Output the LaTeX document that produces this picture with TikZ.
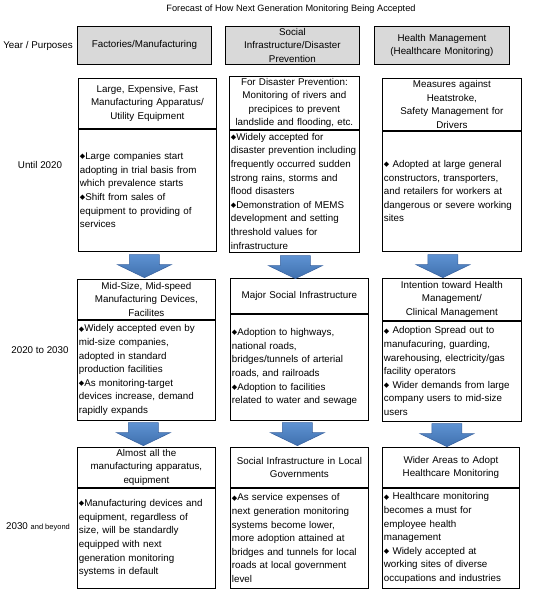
\documentclass[tikz,border=0pt]{standalone}
\usepackage{fontspec}
\setmainfont{Liberation Sans}
\newfontfamily\symfont{DejaVu Sans}
\usetikzlibrary{positioning,calc}

\definecolor{hdgray}{HTML}{D9D9D9}
\definecolor{arrtop}{HTML}{5E92D2}
\definecolor{arrbot}{HTML}{3F70AE}
\definecolor{arrline}{HTML}{3A63A0}

\newcommand\dmd{{\symfont\fontsize{7}{7}\selectfont\raisebox{0.8pt}{◆}}}

\begin{document}
\begin{tikzpicture}[x=1pt, y=-1pt,
    every node/.style={font=\fontsize{9.8}{13.6}\selectfont, inner ysep=0pt, inner xsep=1.5pt},
    hdr/.style={draw, line width=0.8pt, fill=hdgray, align=center, anchor=north west},
    ttl/.style={draw, line width=0.8pt, align=center, anchor=north west},
    txt/.style={draw, line width=0.8pt, align=left, anchor=north west},
    blk/.style={top color=arrtop, bottom color=arrbot, draw=arrline, line width=0.6pt},
    downblk/.pic={\path[blk] (-15,0) -- (-15,10) -- (-27,10) -- (0,23) -- (27,10) -- (15,10) -- (15,0) -- cycle;}
]
\useasboundingbox (0,0) rectangle (534,601);

% title and column heads
\node[font=\fontsize{9.2}{11}\selectfont] (title) at (291,9) {Forecast of How Next Generation Monitoring Being Accepted};
\node (yp) at (38,46) {Year / Purposes};
\node[hdr, text width=131pt, minimum height=38pt] (hfac) at (77,26) {Factories/Manufacturing};
\node[hdr, text width=131pt, minimum height=38pt] (hinf) at (225,26) {Social\\Infrastructure/Disaster\\Prevention};
\node[hdr, text width=132pt, minimum height=38pt] (hhlt) at (374,26) {Health Management\\(Healthcare Monitoring)};

% year labels
\node (y1) at (40,165) {Until 2020};
\node (y2) at (40,350) {2020 to 2030};
\node (y3) at (38,527) {2030 {\fontsize{7.5}{9}\selectfont and beyond}};

% until 2020
\node[ttl, text width=135pt, minimum height=50pt] (fac1) at (78,78) {Large, Expensive, Fast\\Manufacturing Apparatus/\\Utility Equipment};
\node[txt, text width=135pt, minimum height=122pt] (fac1b) at (fac1.south west) {\dmd Large companies start\\adopting in trial basis from\\which prevalence starts\\\dmd Shift from sales of\\equipment to providing of\\services};
\node[ttl, text width=127pt, minimum height=53pt] (inf1) at (229,76) {For Disaster Prevention:\\Monitoring of rivers and\\precipices to prevent\\landslide and flooding, etc.};
\node[txt, text width=127pt, minimum height=122pt] (inf1b) at (inf1.south west) {\dmd Widely accepted for\\disaster prevention including\\frequently occurred sudden\\strong rains, storms and\\flood disasters\\\dmd Demonstration of MEMS\\development and setting\\threshold values for\\infrastructure};
\node[ttl, text width=136pt, minimum height=52pt] (hlt1) at (382,78) {Measures against\\Heatstroke,\\Safety Management for\\Drivers};
\node[txt, text width=136pt, minimum height=120pt] (hlt1b) at (hlt1.south west) {\dmd{} Adopted at large general\\constructors, transporters,\\and retailers for workers at\\dangerous or severe working\\sites};

% 2020 to 2030
\node[ttl, text width=135pt, minimum height=40pt] (fac2) at (77,279) {Mid-Size, Mid-speed\\Manufacturing Devices,\\Facilites};
\node[txt, text width=135pt, minimum height=100pt] (fac2b) at (fac2.south west) {\dmd Widely accepted even by\\mid-size companies,\\adopted in standard\\production facilities\\\dmd As monitoring-target\\devices increase, demand\\rapidly expands};
\node[ttl, text width=135pt, minimum height=35pt] (inf2) at (230,278) {Major Social Infrastructure};
\node[txt, text width=135pt, minimum height=106pt] (inf2b) at (inf2.south west) {\dmd Adoption to highways,\\national roads,\\bridges/tunnels of arterial\\roads, and railroads\\\dmd Adoption to facilities\\related to water and sewage};
\node[ttl, text width=136pt, minimum height=42pt] (hlt2) at (382,278) {Intention toward Health\\Management/\\Clinical Management};
\node[txt, text width=136pt, minimum height=100pt] (hlt2b) at (hlt2.south west) {\dmd{} Adoption Spread out to\\manufacuring, guarding,\\warehousing, electricity/gas\\facility operators\\\dmd{} Wider demands from large\\company users to mid-size\\users};

% 2030 and beyond
\node[ttl, text width=135pt, minimum height=40pt] (fac3) at (77,447) {Almost all the\\manufacturing apparatus,\\equipment};
\node[txt, text width=135pt, minimum height=100pt] (fac3b) at (fac3.south west) {\dmd Manufacturing devices and\\equipment, regardless of\\size, will be standardly\\equipped with next\\generation monitoring\\systems in default};
\node[ttl, text width=135pt, minimum height=40pt] (inf3) at (230,447) {Social Infrastructure in Local\\Governments};
\node[txt, text width=135pt, minimum height=100pt] (inf3b) at (inf3.south west) {\dmd As service expenses of\\next generation monitoring\\systems become lower,\\more adoption attained at\\bridges and tunnels for local\\roads at local government\\level};
\node[ttl, text width=134pt, minimum height=40pt] (hlt3) at (382,447) {Wider Areas to Adopt\\Healthcare Monitoring};
\node[txt, text width=134pt, minimum height=100pt] (hlt3b) at (hlt3.south west) {\dmd{} Healthcare monitoring\\becomes a must for\\employee health\\management\\\dmd{} Widely accepted at\\working sites of diverse\\occupations and industries};

% block arrows between periods
\pic at ($(fac1b.south)+(-3,3)$) {downblk};
\pic at ($(inf1b.south)+(1,3)$) {downblk};
\pic at ($(hlt1b.south)+(-9,3)$) {downblk};
\pic at ($(fac2b.south)+(-3,2)$) {downblk};
\pic at ($(inf2b.south)+(-2,2)$) {downblk};
\pic at ($(hlt2b.south)+(-5,2)$) {downblk};
\end{tikzpicture}
\end{document}
